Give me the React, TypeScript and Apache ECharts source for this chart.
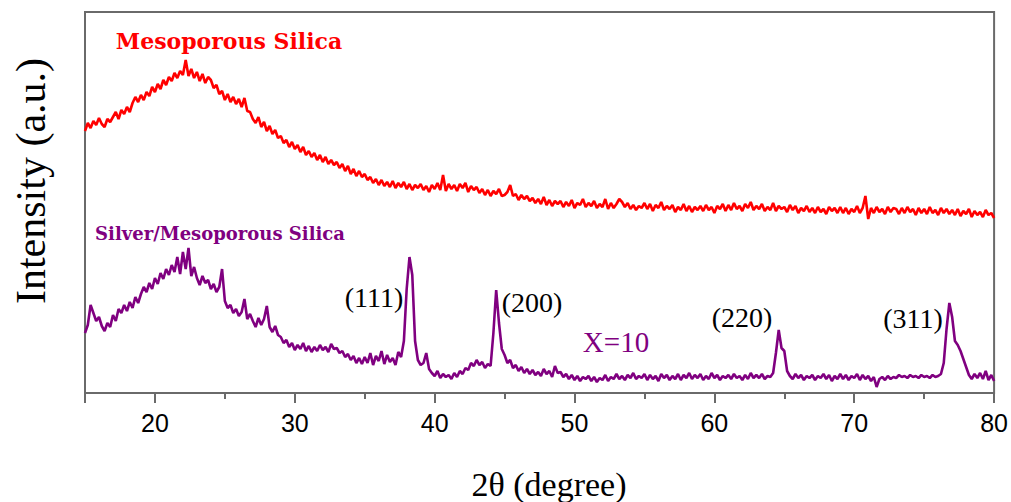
import React, { useEffect, useRef } from "react";
import * as echarts from "echarts";

const X_START = 15;
const X_STEP = 0.2;

// Mesoporous Silica intensity (arbitrary units, offset trace)
const silicaY = [
  262, 270, 265, 272, 268, 275, 269, 266, 274, 271,
  276, 281, 274, 283, 279, 286, 281, 290, 296, 291,
  298, 293, 301, 297, 306, 301, 309, 304, 313, 308,
  316, 312, 320, 315, 322, 318, 333, 317, 324, 315,
  321, 312, 319, 310, 316, 313, 305, 308, 299, 302,
  293, 299, 291, 296, 289, 294, 286, 295, 282, 281,
  274, 270, 276, 266, 271, 262, 267, 259, 263, 255,
  257, 250, 253, 246, 251, 244, 248, 241, 246, 238,
  242, 236, 240, 233, 238, 231, 236, 229, 233, 228,
  231, 225, 229, 222, 227, 219, 224, 217, 222, 216,
  219, 213, 216, 210, 214, 208, 213, 207, 211, 206,
  212, 205, 210, 206, 211, 204, 209, 203, 208, 205,
  209, 203, 207, 201, 208, 204, 210, 203, 218, 202,
  209, 204, 208, 202, 209, 205, 210, 201, 207, 203,
  206, 200, 204, 198, 203, 197, 202, 199, 204, 197,
  198, 201, 208, 197, 199, 193, 198, 194, 197, 192,
  195, 190, 194, 189, 196, 188, 193, 187, 192, 189,
  192, 186, 191, 187, 193, 185, 190, 188, 194, 186,
  190, 187, 192, 185, 189, 186, 194, 184, 190, 185,
  189, 194, 191, 186, 190, 184, 188, 183, 187, 185,
  190, 184, 189, 182, 188, 185, 191, 183, 187, 184,
  188, 181, 186, 183, 189, 182, 187, 181, 186, 183,
  187, 182, 188, 183, 186, 180, 187, 184, 189, 182,
  188, 183, 190, 184, 187, 182, 189, 185, 191, 183,
  187, 184, 189, 182, 186, 183, 190, 182, 187, 184,
  186, 181, 188, 183, 187, 180, 185, 182, 187, 181,
  185, 180, 186, 181, 184, 179, 186, 182, 185, 180,
  186, 180, 185, 179, 184, 181, 187, 180, 185, 197,
  174, 185, 180, 186, 181, 184, 179, 186, 181, 185,
  184, 179, 185, 180, 186, 181, 184, 178, 185, 180,
  184, 179, 186, 180, 183, 178, 185, 180, 184, 179,
  183, 178, 184, 177, 182, 179, 184, 176, 182, 178,
  181, 176, 183, 178, 180, 175,
];

// Silver/Mesoporous Silica intensity (arbitrary units)
const silverY = [
  60, 68, 88, 80, 72, 76, 67, 62, 70, 66,
  78, 72, 84, 80, 88, 82, 91, 85, 96, 90,
  99, 106, 101, 110, 104, 115, 109, 120, 114, 124,
  118, 128, 121, 136, 119, 141, 124, 145, 117, 126,
  115, 108, 117, 110, 113, 104, 109, 101, 106, 124,
  92, 85, 88, 80, 84, 77, 81, 94, 74, 79,
  72, 66, 75, 68, 74, 87, 66, 61, 67, 58,
  56, 50, 53, 46, 50, 43, 48, 44, 50, 42,
  47, 41, 46, 42, 48, 43, 46, 41, 49, 44,
  45, 40, 42, 36, 39, 33, 37, 30, 35, 29,
  36, 30, 40, 28, 37, 32, 42, 29, 38, 31,
  35, 28, 41, 36, 52, 104, 136, 118, 52, 33,
  28, 30, 40, 24, 20, 17, 22, 15, 19, 16,
  18, 14, 20, 16, 22, 19, 25, 23, 30, 27,
  33, 28, 31, 25, 29, 27, 60, 103, 70, 44,
  38, 30, 33, 25, 28, 22, 26, 20, 24, 19,
  23, 18, 21, 17, 24, 19, 22, 16, 27, 20,
  21, 16, 19, 14, 18, 13, 17, 12, 16, 14,
  17, 12, 16, 11, 15, 13, 18, 12, 16, 14,
  19, 14, 17, 13, 18, 15, 20, 14, 17, 15,
  19, 13, 18, 14, 17, 12, 19, 15, 18, 13,
  17, 14, 19, 13, 18, 15, 20, 14, 18, 15,
  19, 13, 17, 14, 20, 15, 18, 13, 17, 15,
  18, 14, 19, 15, 17, 13, 18, 14, 20, 15,
  18, 15, 19, 14, 17, 16, 20, 40, 63, 45,
  42, 22, 17, 14, 19, 15, 18, 13, 17, 15,
  18, 13, 17, 15, 19, 14, 18, 12, 17, 14,
  19, 14, 18, 13, 17, 15, 19, 13, 18, 14,
  17, 12, 16, 6, 14, 16, 13, 17, 14, 16,
  15, 18, 16, 17, 15, 18, 16, 17, 15, 18,
  16, 17, 15, 18, 16, 17, 19, 30, 64, 90,
  76, 52, 48, 42, 34, 26, 18, 14, 19, 15,
  20, 14, 22, 13, 18, 12,
];

const xLabelTicks = [20, 30, 40, 50, 60, 70, 80];
const xMajorTicks = [15, 20, 30, 40, 50, 60, 70, 80];
const xMinorTicks = [25, 35, 45, 55, 65, 75];

const peakLabels = ["(111)", "(200)", "(220)", "(311)"];

const toPairs = (ys: number[]) =>
  ys.map((y, i) => [+(X_START + i * X_STEP).toFixed(1), y]);

export default function App() {
  const ref = useRef<HTMLDivElement>(null);
  useEffect(() => {
    if (!ref.current) return;
    const chart = echarts.init(ref.current, null, { renderer: "svg" });
    const serif = "'Liberation Serif', 'Times New Roman', serif";
    const titleFont = "'DejaVu Serif', serif";
    const axisGray = "#6a6a6a";
    const peakPos = [
      [374, 297],
      [532, 302],
      [742, 317],
      [913, 318],
    ];
    const centered = { align: "center", verticalAlign: "middle", textAlign: "center", textVerticalAlign: "middle" };
    chart.setOption({
      animation: false,
      backgroundColor: "#ffffff",
      grid: {
        left: 85,
        right: 16,
        top: 12,
        bottom: 109,
        show: true,
        borderColor: axisGray,
        borderWidth: 2,
      },
      xAxis: [
        {
          type: "value",
          min: 15,
          max: 80,
          position: "bottom",
          axisLine: { show: true, onZero: false, lineStyle: { color: axisGray, width: 2 } },
          axisTick: {
            show: true,
            customValues: xMajorTicks,
            length: 10,
            lineStyle: { color: axisGray, width: 2 },
          },
          axisLabel: {
            customValues: xLabelTicks,
            fontFamily: "'Liberation Sans', Arial, sans-serif",
            fontSize: 25,
            color: "#000",
            margin: 17,
          },
          splitLine: { show: false },
        },
        {
          type: "value",
          min: 15,
          max: 80,
          position: "bottom",
          axisLine: { show: false, onZero: false },
          axisTick: {
            show: true,
            customValues: xMinorTicks,
            length: 6,
            lineStyle: { color: axisGray, width: 2 },
          },
          axisLabel: { show: false },
          splitLine: { show: false },
        },
      ],
      yAxis: {
        type: "value",
        min: 0,
        max: 381,
        axisLine: { show: false },
        axisTick: { show: false },
        axisLabel: { show: false },
        splitLine: { show: false },
      },
      series: [
        {
          type: "line",
          name: "Mesoporous Silica",
          data: toPairs(silicaY),
          showSymbol: false,
          lineStyle: { color: "#ff0000", width: 2.6 },
          itemStyle: { color: "#ff0000" },
          z: 3,
        },
        {
          type: "line",
          name: "Silver/Mesoporous Silica",
          data: toPairs(silverY),
          showSymbol: false,
          lineStyle: { color: "#800080", width: 2.6 },
          itemStyle: { color: "#800080" },
          z: 3,
        },
      ],
      graphic: [
        {
          type: "text",
          x: 31,
          y: 181,
          rotation: Math.PI / 2,
          style: { text: "Intensity (a.u.)", font: `42px ${serif}`, fill: "#000", ...centered },
        },
        {
          type: "text",
          x: 549,
          y: 484,
          style: { text: "2θ (degree)", font: `34px ${serif}`, fill: "#000", ...centered },
        },
        {
          type: "text",
          x: 229,
          y: 41,
          style: { text: "Mesoporous Silica", font: `bold 22px ${titleFont}`, fill: "#ff0000", ...centered },
        },
        {
          type: "text",
          x: 220,
          y: 233,
          style: { text: "Silver/Mesoporous Silica", font: `bold 18px ${titleFont}`, fill: "#800080", ...centered },
        },
        {
          type: "text",
          x: 616,
          y: 342,
          style: { text: "X=10", font: `29px ${serif}`, fill: "#800080", ...centered },
        },
        ...peakLabels.map((t, i) => ({
          type: "text",
          x: peakPos[i][0],
          y: peakPos[i][1],
          style: { text: t, font: `28px ${serif}`, fill: "#000", ...centered },
        })),
      ],
    });
    return () => chart.dispose();
  }, []);
  return (
    <div
      ref={ref}
      style={{ position: "absolute", left: 0, top: 0, width: 1011, height: 502 }}
    />
  );
}
